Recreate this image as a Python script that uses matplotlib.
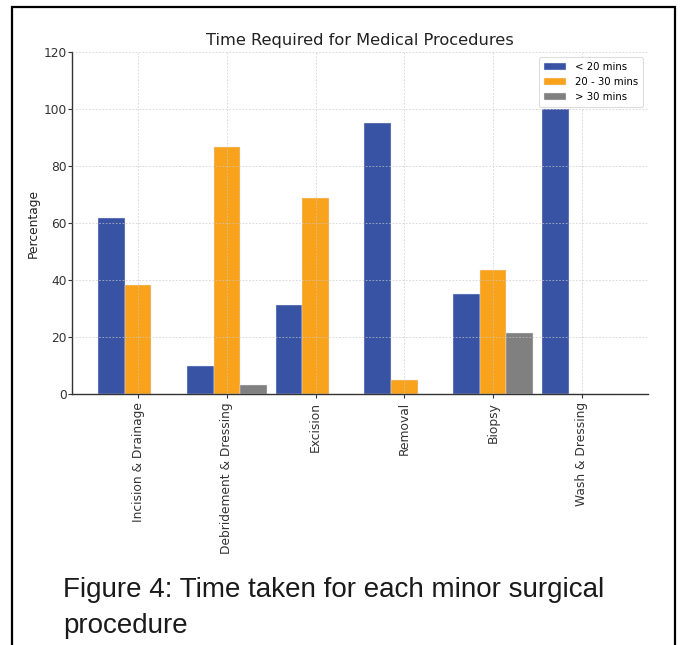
import matplotlib
matplotlib.use('Agg')
import matplotlib.pyplot as plt
import numpy as np
from matplotlib.patches import Rectangle

# procedures and share of cases (%) per duration band
procedures = ['Incision & Drainage', 'Debridement & Dressing', 'Excision',
              'Removal', 'Biopsy', 'Wash & Dressing']
under_20 = [61.9, 10.0, 31.2, 95.2, 35.0, 100.0]
from_20_to_30 = [38.1, 86.7, 68.8, 4.8, 43.5, 0.0]
over_30 = [0.0, 3.3, 0.0, 0.0, 21.5, 0.0]

band_labels = ['< 20 mins', '20 - 30 mins', '> 30 mins']
band_colors = ['#3953a4', '#f9a31d', '#808080']

fig = plt.figure(figsize=(6.8, 6.45), dpi=100)
ax = fig.add_axes([0.1059, 0.3891, 0.847, 0.5302])

x = np.arange(len(procedures))
w = 0.3
for off, vals, lab, col in zip([-w, 0, w], [under_20, from_20_to_30, over_30],
                               band_labels, band_colors):
    ax.bar(x + off, vals, w, label=lab, color=col, edgecolor='#e8e8f4', linewidth=0.3)

ax.set_ylim(0, 120)
ax.set_yticks(range(0, 121, 20))
ax.set_xticks(x)
ax.set_xticklabels(procedures, rotation=90, fontsize=8.8, color='#333333')
ax.tick_params(axis='y', labelsize=8.8, labelcolor='#333333', length=3,
               color='#333333', pad=0.8)
ax.tick_params(axis='x', length=3, color='#333333', pad=3)
ax.set_ylabel('Percentage', fontsize=8.8, color='#222222', labelpad=3)
ax.set_title('Time Required for Medical Procedures', fontsize=11.7, color='#222222', pad=5)

ax.grid(True, linestyle=(0, (2, 2)), color='#c8c8c8', linewidth=0.6, alpha=0.8)
ax.set_axisbelow(False)
for s in ['top', 'right']:
    ax.spines[s].set_visible(False)
for s in ['left', 'bottom']:
    ax.spines[s].set_color('#333333')
    ax.spines[s].set_linewidth(1.0)

leg = ax.legend(loc='upper right', fontsize=7.3, frameon=True, framealpha=1,
                edgecolor='#dddddd', handlelength=2.2, borderpad=0.5)
leg.get_frame().set_linewidth(0.8)

# page frame around the figure block
frame = Rectangle((12 / 680, -0.05), (675 - 12) / 680, 1.05 - 7 / 645,
                  transform=fig.transFigure, fill=False, edgecolor='black',
                  linewidth=1.6, clip_on=False)
fig.patches.append(frame)

cap_font = dict(family=['Liberation Sans', 'DejaVu Sans'], fontsize=20,
                color='#1a1a1a', va='baseline', ha='left')
fig.text(63 / 680, 1 - 597 / 645, 'Figure 4: Time taken for each minor surgical', **cap_font)
fig.text(63 / 680, 1 - 633 / 645, 'procedure', **cap_font)

fig.savefig('out.png', dpi=100)
